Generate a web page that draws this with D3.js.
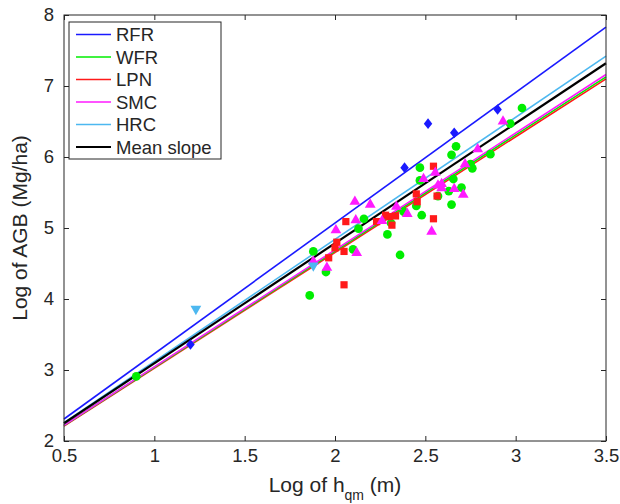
<!DOCTYPE html>
<html>
<head>
<meta charset="utf-8">
<script src="https://cdn.jsdelivr.net/npm/d3@7"></script>
<style>
  body { margin: 0; background: #fff; }
  svg { font-family: "Liberation Sans", Arial, sans-serif; }
</style>
</head>
<body>
<div id="chart"></div>
<script>
// Series (legend order) and their colours
const seriesNames = ["RFR", "WFR", "LPN", "SMC", "HRC", "Mean slope"];
const seriesColors = ["#1a1aff", "#00ee00", "#ff1a1a", "#ff1aff", "#4db8f0", "#000000"];

// Fitted lines: log AGB = intercept + slope * log hqm
const lineIntercepts = [1.39, 1.40, 1.395, 1.397, 1.40, 1.405];
const lineSlopes = [1.84, 1.637, 1.63, 1.647, 1.72, 1.69];

// Observations [log hqm, log AGB]
const rfrPoints = [[1.20, 3.36], [2.385, 5.85], [2.515, 6.47], [2.66, 6.34], [2.90, 6.67]];
const wfrPoints = [[0.90, 2.91], [1.86, 4.05], [1.88, 4.67], [1.95, 4.38], [2.10, 4.70], [2.13, 4.99],
  [2.16, 5.13], [2.29, 4.91], [2.31, 5.07], [2.36, 4.62], [2.38, 5.23], [2.45, 5.31], [2.47, 5.85],
  [2.47, 5.67], [2.48, 5.18], [2.57, 5.45], [2.63, 5.52], [2.645, 5.33], [2.645, 6.03], [2.655, 5.69],
  [2.67, 6.15], [2.70, 5.57], [2.75, 5.90], [2.76, 5.84], [2.86, 6.04], [2.97, 6.47], [3.035, 6.69]];
const lpnPoints = [[2.05, 4.20], [1.965, 4.58], [2.00, 4.72], [2.01, 4.80], [2.05, 4.67], [2.06, 5.09],
  [2.23, 5.09], [2.28, 5.18], [2.30, 5.16], [2.315, 5.04], [2.335, 5.17], [2.45, 5.48], [2.455, 5.37],
  [2.545, 5.87], [2.565, 5.45], [2.545, 5.13]];
const smcPoints = [[1.88, 4.53], [1.955, 4.44], [2.005, 4.97], [2.11, 5.37], [2.115, 5.11], [2.12, 4.65],
  [2.195, 5.33], [2.26, 5.10], [2.34, 5.30], [2.40, 5.20], [2.49, 5.69], [2.535, 4.95], [2.555, 5.78],
  [2.57, 5.60], [2.59, 5.62], [2.59, 5.56], [2.66, 5.55], [2.71, 5.47], [2.72, 5.90], [2.79, 6.11],
  [2.93, 6.50]];
const hrcPoints = [[1.23, 3.86], [1.88, 4.47]];

const xTicks = [0.5, 1, 1.5, 2, 2.5, 3, 3.5];
const yTicks = [2, 3, 4, 5, 6, 7, 8];

const margin = { top: 15, right: 14, bottom: 63, left: 64 },
  width = 620 - margin.left - margin.right,
  height = 504 - margin.top - margin.bottom;

const svg = d3.select("#chart").append("svg")
  .attr("width", 620)
  .attr("height", 504)
  .append("g")
  .attr("transform", "translate(" + margin.left + "," + margin.top + ")");

const x = d3.scaleLinear().domain([0.5, 3.5]).range([0, width]);
const y = d3.scaleLinear().domain([2, 8]).range([height, 0]);

const axisColor = "#262626";

// axes with inward ticks on all four sides
function styleAxis(g) {
  g.select(".domain").remove();
  g.selectAll(".tick line").attr("stroke", axisColor);
  g.selectAll(".tick text").attr("fill", axisColor).style("font-size", "18.5px");
}
svg.append("g").attr("transform", "translate(0," + height + ")")
  .call(d3.axisBottom(x).tickValues(xTicks).tickFormat(d3.format("")).tickSizeInner(-5).tickSizeOuter(0).tickPadding(8))
  .call(styleAxis);
svg.append("g")
  .call(d3.axisLeft(y).tickValues(yTicks).tickFormat(d3.format("d")).tickSizeInner(-5).tickSizeOuter(0).tickPadding(10))
  .call(styleAxis);
svg.append("g")
  .call(d3.axisTop(x).tickValues(xTicks).tickFormat("").tickSizeInner(-5).tickSizeOuter(0))
  .call(styleAxis);
svg.append("g").attr("transform", "translate(" + width + ",0)")
  .call(d3.axisRight(y).tickValues(yTicks).tickFormat("").tickSizeInner(-5).tickSizeOuter(0))
  .call(styleAxis);

// fitted lines
const lineData = seriesNames.map((name, i) => ({
  name: name, color: seriesColors[i],
  pts: x.domain().map(v => [v, lineIntercepts[i] + lineSlopes[i] * v])
}));
const line = d3.line().x(d => x(d[0])).y(d => y(d[1]));
// draw in an order so black and coloured lines overlap like the figure
[2, 1, 3, 0, 4, 5].forEach(i => {
  svg.append("path")
    .attr("d", line(lineData[i].pts))
    .attr("fill", "none")
    .attr("stroke", lineData[i].color)
    .attr("stroke-width", i === 5 ? 2.2 : 1.6);
});

// MATLAB-like diamond: a bit wider than d3's own
const diamond = {
  draw(ctx, size) {
    const h = Math.sqrt(size / 1.6);
    const w = h * 0.8;
    ctx.moveTo(0, -h); ctx.lineTo(w, 0); ctx.lineTo(0, h); ctx.lineTo(-w, 0); ctx.closePath();
  }
};

// markers
const markerSets = [
  { pts: rfrPoints, color: seriesColors[0], type: diamond, size: 45, rot: 0 },
  { pts: wfrPoints, color: seriesColors[1], type: d3.symbolCircle, size: 60, rot: 0 },
  { pts: lpnPoints, color: seriesColors[2], type: d3.symbolSquare, size: 52, rot: 0 },
  { pts: smcPoints, color: seriesColors[3], type: d3.symbolTriangle, size: 50, rot: 0 },
  { pts: hrcPoints, color: seriesColors[4], type: d3.symbolTriangle, size: 50, rot: 180 }
];
markerSets.forEach(m => {
  svg.append("g").selectAll("path")
    .data(m.pts)
    .enter().append("path")
    .attr("d", d3.symbol().type(m.type).size(m.size))
    .attr("transform", d => "translate(" + x(d[0]) + "," + y(d[1]) + ") rotate(" + m.rot + ")")
    .attr("fill", m.color);
});

// plot box
svg.append("rect")
  .attr("width", width).attr("height", height)
  .attr("fill", "none").attr("stroke", axisColor).attr("stroke-width", 1);

// legend
const legend = svg.append("g").attr("transform", "translate(5,7)");
legend.append("rect")
  .attr("width", 152).attr("height", 137)
  .attr("fill", "#fff").attr("stroke", axisColor).attr("stroke-width", 1);
seriesNames.forEach((name, i) => {
  const ly = 12.5 + i * 22.5;
  legend.append("line")
    .attr("x1", 7).attr("x2", 42).attr("y1", ly).attr("y2", ly)
    .attr("stroke", seriesColors[i]).attr("stroke-width", i === 5 ? 2.2 : 1.6);
  legend.append("text")
    .attr("x", 47).attr("y", ly).attr("dy", "0.36em")
    .style("font-size", "18.5px").attr("fill", axisColor)
    .text(name);
});

// axis titles
const xTitle = svg.append("text")
  .attr("x", width / 2).attr("y", height + 51)
  .attr("text-anchor", "middle").style("font-size", "21px").attr("fill", axisColor);
xTitle.append("tspan").text("Log of h");
xTitle.append("tspan").attr("dy", 8).style("font-size", "14px").text("qm");
xTitle.append("tspan").attr("dy", -8).text(" (m)");

svg.append("text")
  .attr("transform", "translate(" + (27 - margin.left) + "," + (height / 2) + ") rotate(-90)")
  .attr("text-anchor", "middle").style("font-size", "21px").attr("fill", axisColor)
  .text("Log of AGB (Mg/ha)");
</script>
</body>
</html>
